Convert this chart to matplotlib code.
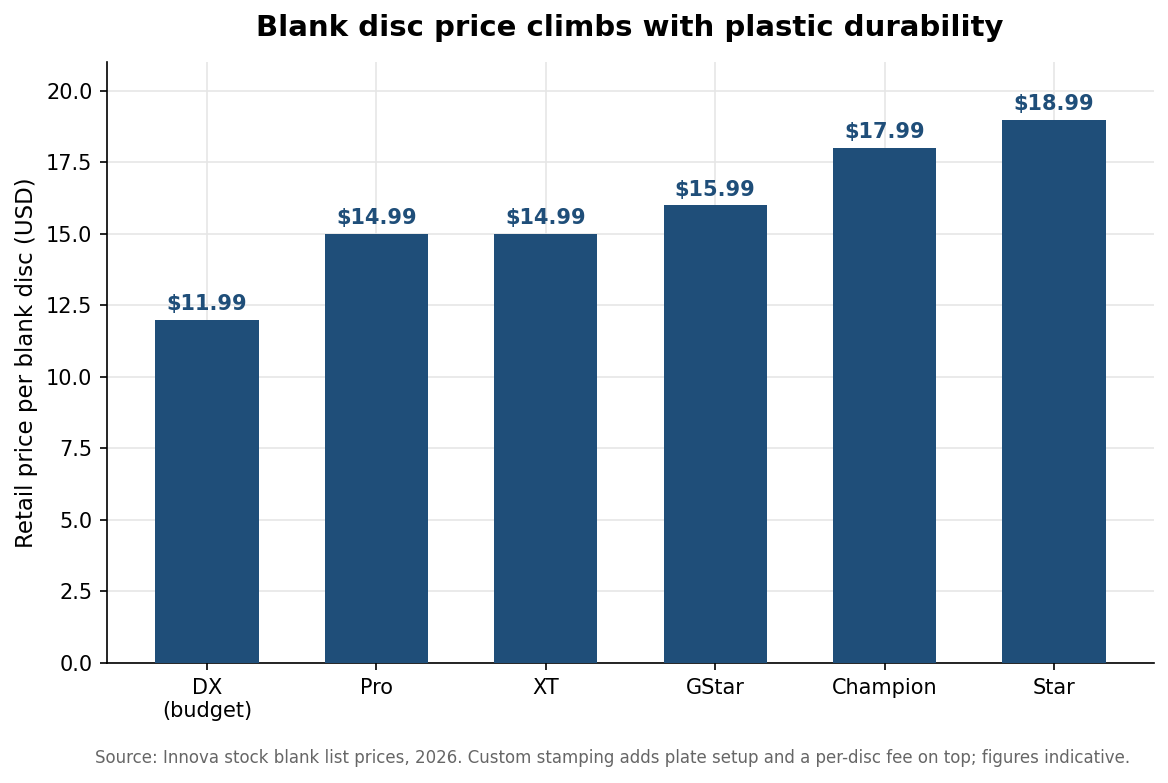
import matplotlib
matplotlib.use("Agg")
import matplotlib.pyplot as plt

categories = ["DX\n(budget)", "Pro", "XT", "GStar", "Champion", "Star"]
prices = [11.99, 14.99, 14.99, 15.99, 17.99, 18.99]
labels = ["$11.99", "$14.99", "$14.99", "$15.99", "$17.99", "$18.99"]

color = "#1f4e79"
fig = plt.figure(figsize=(1168/150, 783/150), dpi=150)
ax = fig.add_axes([107/1168, 1-663/783, (1154-107)/1168, (663-62)/783])
x = range(len(categories))
ax.bar(x, prices, width=0.61, color=color, zorder=3)
for i, (p, l) in enumerate(zip(prices, labels)):
    ax.text(i, p + 0.2, l, ha="center", va="bottom", fontsize=10,
            fontweight="bold", color=color, zorder=4)
ax.set_xticks(list(x))
ax.set_xticklabels(categories, fontsize=10)
ax.tick_params(axis="y", labelsize=10)
ax.set_xlim(-0.59, 5.59)
ax.set_ylim(0, 21)
ax.set_yticks([0, 2.5, 5, 7.5, 10, 12.5, 15, 17.5, 20])
ax.set_yticklabels([f"{v:.1f}" for v in [0, 2.5, 5, 7.5, 10, 12.5, 15, 17.5, 20]])
ax.grid(True, color="#e6e6e6", linewidth=0.8, zorder=0)
ax.set_axisbelow(True)
ax.spines["top"].set_visible(False)
ax.spines["right"].set_visible(False)
ax.set_ylabel("Retail price per blank disc (USD)", fontsize=11)
fig.suptitle("Blank disc price climbs with plastic durability", fontsize=14,
             fontweight="bold", x=630/1168, y=1-28/783, va="center")
fig.text(613/1168, 1-758/783,
         "Source: Innova stock blank list prices, 2026. Custom stamping adds plate setup and a per-disc fee on top; figures indicative.",
         ha="center", va="center", fontsize=8, color="#666666")
fig.savefig("out.png", dpi=150)
